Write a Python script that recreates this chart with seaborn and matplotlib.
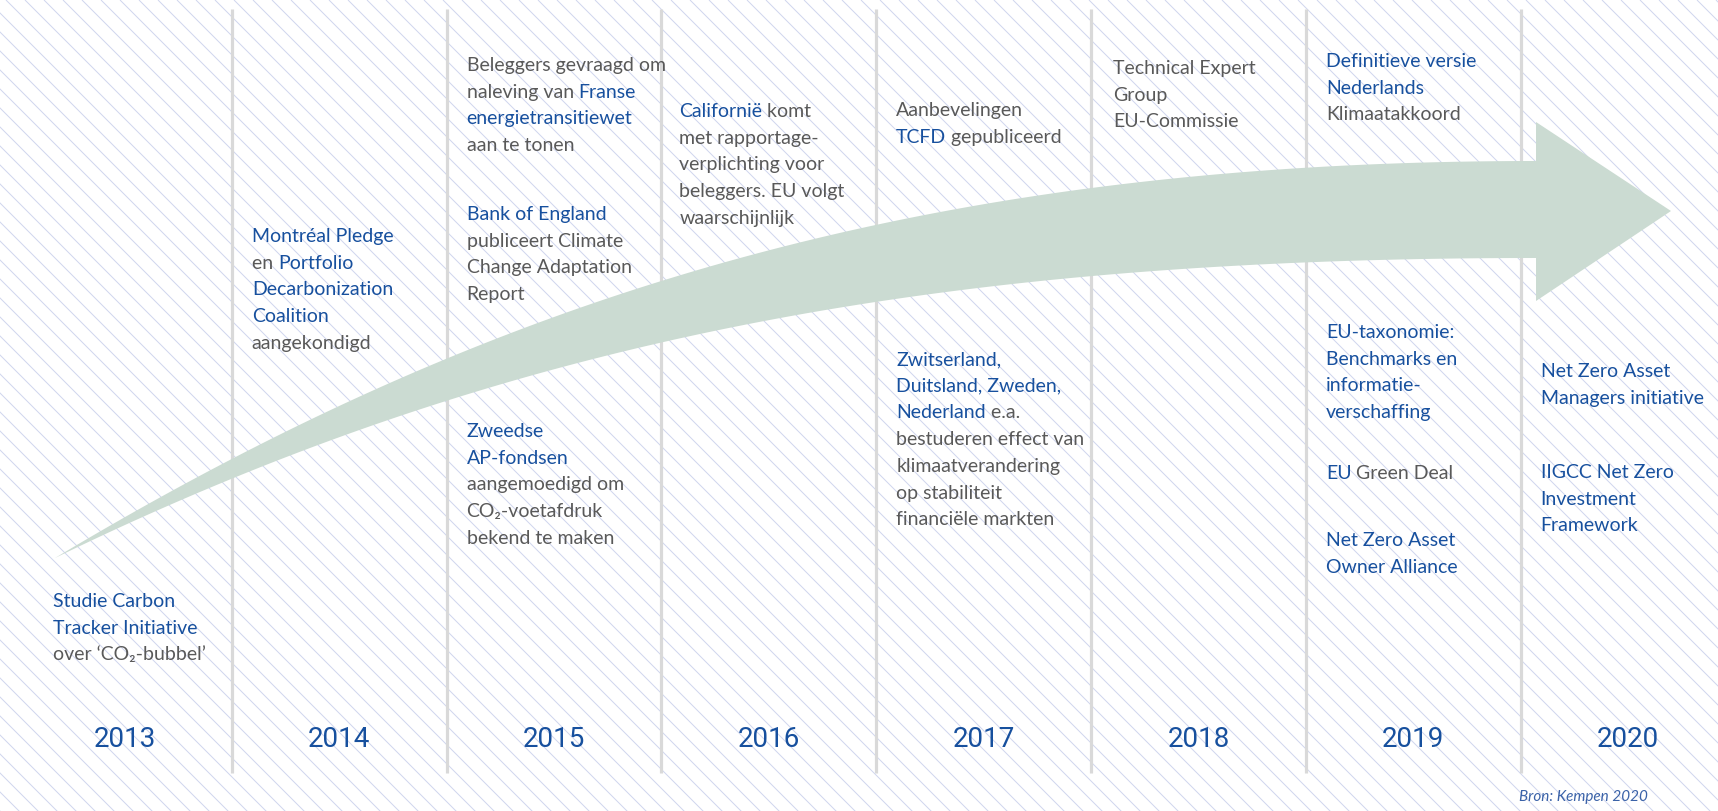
import re
import numpy as np
import matplotlib
matplotlib.use("Agg")
import matplotlib.pyplot as plt
import matplotlib.transforms as mtransforms
from matplotlib.collections import LineCollection
from matplotlib.patches import Rectangle
import seaborn as sns

# === DATA ===
years = [2013, 2014, 2015, 2016, 2017, 2018, 2019, 2020]

# words between [ ] are highlighted in blue
events_2013 = [["[Studie Carbon]", "[Tracker Initiative]", "over ‘CO₂-bubbel’"]]
events_2014 = [["[Montréal Pledge]", "en [Portfolio]", "[Decarbonization]", "[Coalition]", "aangekondigd"]]
events_2015 = [
    ["Beleggers gevraagd om", "naleving van [Franse]", "[energietransitiewet]", "aan te tonen"],
    ["[Bank of England]", "publiceert Climate", "Change Adaptation", "Report"],
    ["[Zweedse]", "[AP-fondsen]", "aangemoedigd om", "CO₂-voetafdruk", "bekend te maken"],
]
events_2016 = [["[Californië] komt", "met rapportage-", "verplichting voor", "beleggers. EU volgt", "waarschijnlijk"]]
events_2017 = [
    ["Aanbevelingen", "[TCFD] gepubliceerd"],
    ["[Zwitserland,]", "[Duitsland, Zweden,]", "[Nederland] e.a.", "bestuderen effect van",
     "klimaatverandering", "op stabiliteit", "financiële markten"],
]
events_2018 = [["Technical Expert", "Group", "EU-Commissie"]]
events_2019 = [
    ["[Definitieve versie]", "[Nederlands]", "Klimaatakkoord"],
    ["[EU-taxonomie:]", "[Benchmarks en]", "[informatie-]", "[verschaffing]"],
    ["[EU] Green Deal"],
    ["[Net Zero Asset]", "[Owner Alliance]"],
]
events_2020 = [
    ["[Net Zero Asset]", "[Managers initiative]"],
    ["[IIGCC Net Zero]", "[Investment]", "[Framework]"],
]
events = [events_2013, events_2014, events_2015, events_2016,
          events_2017, events_2018, events_2019, events_2020]
source_label = "Bron: Kempen 2020"

# === LAYOUT (pixel rows from the top, column geometry) ===
W, H = 1718, 811
X0 = 17          # left edge of first column
COL_W = 214.8    # column width in px
TOP = 9
block_rows = [[607], [242], [71, 220, 437], [117], [116, 365], [74], [67, 338, 479, 546], [377, 478]]
text_pad = [36, 20, 20, 18, 20, 22, 20, 20]
LINE_H = 26.7

BLUE = "#17509e"
GRAY = "#595959"
ARROW = "#cbdbd2"
HATCH = "#cfd5ee"
SEP = "#d9d9d9"


def px_to_year(px):
    return years[0] - 0.5 + (np.asarray(px, dtype=float) - X0) / COL_W


def bezier(p0, p1, p2, p3, n=200):
    t = np.linspace(0, 1, n)[:, None]
    return ((1 - t) ** 3) * p0 + 3 * ((1 - t) ** 2) * t * p1 + 3 * (1 - t) * t ** 2 * p2 + t ** 3 * p3


def main():
    sns.set_theme(style="white")
    plt.rcParams["font.family"] = ["Lato", "DejaVu Sans"]

    fig = plt.figure(figsize=(W / 100, H / 100), dpi=100)
    ax = fig.add_axes([0, 0, 1, 1])
    ax.set_xlim(px_to_year(0), px_to_year(W))
    ax.set_ylim(H, 0)
    ax.set_axis_off()

    # === diagonal background hatch ===
    step = 19
    segs = []
    for c in np.arange(-H, W + step, step):
        xs = np.array([c, c + 2 * H])
        ys = np.array([0, 2 * H])
        segs.append(np.column_stack([px_to_year(xs), ys]))
    clip = Rectangle((px_to_year(X0), TOP), px_to_year(W + 5) - px_to_year(X0), H - TOP,
                     transform=ax.transData, facecolor="none", edgecolor="none")
    ax.add_patch(clip)
    lc = LineCollection(segs, colors=HATCH, linewidths=0.7, zorder=1)
    lc.set_clip_path(clip)
    ax.add_collection(lc)

    # === column separators ===
    ax.vlines([y - 0.5 for y in years[1:]], TOP, 773, colors=SEP, linewidth=2.3, zorder=2)

    # === curved arrow ===
    start = np.array([55, 558])
    top = bezier(start, np.array([505, 288]), np.array([936, 161]), np.array([1536, 161]))
    bot = bezier(start, np.array([505, 339]), np.array([936, 258]), np.array([1536, 258]))
    head = np.array([[1536, 122], [1671, 211], [1536, 301]])
    poly = np.vstack([top, head, bot[::-1]])
    ax.fill(px_to_year(poly[:, 0]), poly[:, 1], color=ARROW, lw=0, zorder=3)

    # === texts ===
    renderer = fig.canvas.get_renderer()
    kw = dict(fontsize=14)

    def width(s):
        t = ax.text(0, 0, s, **kw)
        w = t.get_window_extent(renderer).width
        t.remove()
        return w

    base_w = width("x")

    def draw_line(x, y, line):
        prefix = ""
        for part in re.split(r"(\[[^\]]*\])", line):
            if not part:
                continue
            hl = part.startswith("[")
            s = part[1:-1] if hl else part
            dx = width(prefix + "x") - base_w if prefix else 0
            tr = mtransforms.offset_copy(ax.transData, fig=fig, x=dx, y=0, units="dots")
            ax.text(x, y, s, transform=tr, color=BLUE if hl else GRAY,
                    ha="left", va="baseline", zorder=5, **kw)
            prefix += s

    for i, year in enumerate(years):
        x = px_to_year(X0 + i * COL_W + text_pad[i])
        for block, y0 in zip(events[i], block_rows[i]):
            for k, line in enumerate(block):
                draw_line(x, y0 + k * LINE_H, line)
        ax.text(year, 747, str(year), ha="center", va="baseline", fontsize=20,
                family=["Roboto", "Lato"], fontweight="normal", color=BLUE, zorder=5)

    ax.text(px_to_year(1519), 801, source_label, ha="left", va="baseline", fontsize=11,
            style="italic", color="#3a62a8", zorder=5)

    fig.savefig("out.png", dpi=100, facecolor="white")
    plt.close(fig)


if __name__ == "__main__":
    main()
